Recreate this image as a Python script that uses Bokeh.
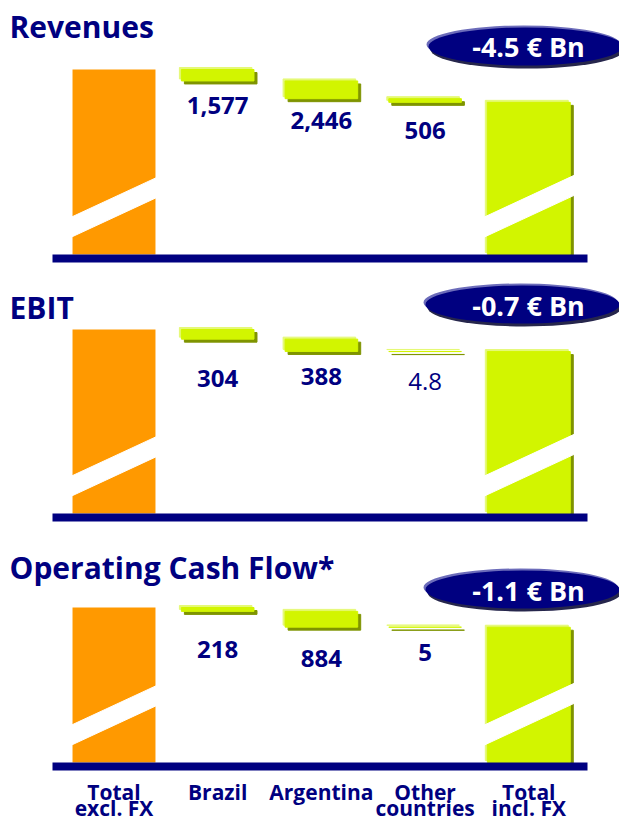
from bokeh.plotting import figure
from bokeh.layouts import column
from bokeh.models import Range1d, Label
from bokeh.embed import file_html
from bokeh.resources import INLINE
from bokeh.core.properties import value

# ---------------- data ----------------
categories = ["Total\nexcl. FX", "Brazil", "Argentina", "Other\ncountries", "Total\nincl. FX"]
panel_titles = ["Revenues", "EBIT", "Operating Cash Flow*"]
fx_impact_bn = [-4.5, -0.7, -1.1]              # € Bn, shown in the badges
revenues_fx_impact = [1577, 2446, 506]         # € M: Brazil, Argentina, Other countries
ebit_fx_impact = [304, 388, 4.8]
ocf_fx_impact = [218, 884, 5]
# totals before FX are drawn as broken bars (not legible) - estimated
total_excl_fx = [25500, 5800, 8700]

# ---------------- style / layout ----------------
NAVY = "#000080"
ORANGE = "#FF9900"
G_MAIN = "#D2F500"
G_LIGHT = "#E5F976"
G_DARK = "#7F9400"
FONT = "Open Sans"

PAGE_LEFT = 0
FIG_W = 619
XPX0 = 113.5      # page x of first category
XSTEP = 103.7     # px per category
TOT_W = 0.80
DEC_W = 0.70
SLOPE = 0.464
TXT_DY = -8       # baseline correction for svg text placement

PANELS = [
    dict(fig_top=0, fig_h=270, base=254, bar_top=69, title_base=34,
         badge_c=(525, 46), badge_base=54, label_base=[113, 128, 138]),
    dict(fig_top=270, fig_h=260, base=513, bar_top=329, title_base=315,
         badge_c=(522, 304), badge_base=313, label_base=[386, 384, 389]),
    dict(fig_top=530, fig_h=292, base=762, bar_top=607, title_base=575,
         badge_c=(522, 589), badge_base=598, label_base=[657, 666, 660]),
]


def Xpx(px):
    return (px - XPX0) / XSTEP


def px_of(x):
    return XPX0 + x * XSTEP


def fmt(v):
    return f"{v:,.0f}" if float(v).is_integer() else f"{v:g}"


positions = list(range(len(categories)))


def build_panel(k, deltas, with_categories=False):
    L = PANELS[k]
    T = total_excl_fx[k]
    s = (L["base"] - L["bar_top"]) / T  # px per unit

    def Y(pix):
        return (L["base"] - pix) / s

    def YT(pix):
        return Y(pix + TXT_DY)

    fig_bottom = L["fig_top"] + L["fig_h"]
    p = figure(width=FIG_W, height=L["fig_h"],
               x_range=Range1d(Xpx(PAGE_LEFT), Xpx(PAGE_LEFT + FIG_W)),
               y_range=Range1d(Y(fig_bottom), Y(L["fig_top"])),
               output_backend="svg", toolbar_location=None,
               x_axis_type=None, y_axis_type=None, min_border=0,
               outline_line_color=None, background_fill_color="white",
               border_fill_color="white")
    if p.title is not None:
        p.title.visible = False
    p.grid.visible = False

    # waterfall
    tops, bottoms = [], []
    run = T
    for d in deltas:
        tops.append(run)
        bottoms.append(run - d)
        run -= d
    final = run

    # orange total
    p.quad(left=[positions[0] - TOT_W / 2], right=[positions[0] + TOT_W / 2],
           bottom=[0], top=[T], fill_color=ORANGE, line_color=None)

    g_left = [x - DEC_W / 2 for x in positions[1:4]] + [positions[4] - TOT_W / 2]
    g_right = [x + DEC_W / 2 for x in positions[1:4]] + [positions[4] + TOT_W / 2]
    g_top = tops + [final]
    g_bot = bottoms + [0]
    for dx, dy, col in [(3, 3, G_DARK), (-2, -2, G_LIGHT), (0, 0, G_MAIN)]:
        p.quad(left=[l + dx / XSTEP for l in g_left],
               right=[r + dx / XSTEP for r in g_right],
               top=[t - dy / s for t in g_top],
               bottom=[b - dy / s for b in g_bot],
               fill_color=col, line_color=col, line_width=1)

    # break stripes on the two total bars
    xs, ys = [], []
    for lpx, rpx in [(px_of(positions[0] - TOT_W / 2), px_of(positions[0] + TOT_W / 2)),
                     (px_of(positions[4] - TOT_W / 2) - 2, px_of(positions[4] + TOT_W / 2) + 3)]:
        x0, x1 = lpx - 2, rpx + 3
        yb0 = L["base"] - 17
        yb1 = yb0 - SLOPE * (x1 - x0)
        xs.append([Xpx(x0), Xpx(x1), Xpx(x1), Xpx(x0)])
        ys.append([Y(yb0), Y(yb1), Y(yb1 - 20), Y(yb0 - 20)])
    p.patches(xs=xs, ys=ys, fill_color="white", line_color="white", line_width=1)

    # baseline
    p.quad(left=[Xpx(52)], right=[Xpx(587)], top=[0], bottom=[Y(L["base"] + 8)],
           fill_color=NAVY, line_color=None)

    # value labels
    for i, v in enumerate(deltas):
        p.text(x=[positions[1 + i]], y=[YT(L["label_base"][i])], text=[fmt(v)],
               text_align="center", text_baseline="alphabetic",
               text_font=value(FONT),
               text_font_style="bold" if float(v).is_integer() else "normal",
               text_font_size="24px", text_color=NAVY)

    # title
    p.add_layout(Label(x=Xpx(9), y=YT(L["title_base"]), text=panel_titles[k],
                       text_font=FONT, text_font_style="bold", text_font_size="30px",
                       text_color=NAVY, text_baseline="alphabetic", text_align="left"))

    # badge
    cx, cy = L["badge_c"]
    for dx, dy, col in [(2, 3, "#26264c"), (-2, -2, "#6c6cba"), (0, 0, NAVY)]:
        p.ellipse(x=[Xpx(cx + dx)], y=[Y(cy + dy)], width=194, height=38,
                  width_units="screen", height_units="screen",
                  fill_color=col, line_color=None)
    p.add_layout(Label(x=Xpx(528), y=YT(L["badge_base"]), text=f"{fx_impact_bn[k]:.1f} € Bn",
                       text_font=FONT, text_font_style="bold", text_font_size="27px",
                       text_color="white", text_baseline="alphabetic", text_align="center"))

    if with_categories:
        line1 = [c.split("\n")[0] for c in categories]
        line2 = [c.split("\n")[1] if "\n" in c else "" for c in categories]
        for lines, b in [(line1, 799), (line2, 815)]:
            p.text(x=positions, y=[YT(b)] * len(positions), text=lines,
                   text_align="center", text_baseline="alphabetic",
                   text_font=value(FONT), text_font_style="bold",
                   text_font_size="21px", text_color=NAVY)
    return p


p1 = build_panel(0, revenues_fx_impact)
p2 = build_panel(1, ebit_fx_impact)
p3 = build_panel(2, ocf_fx_impact, with_categories=True)

layout = column(p1, p2, p3, spacing=0)
open("out.html", "w").write(file_html(layout, INLINE))
